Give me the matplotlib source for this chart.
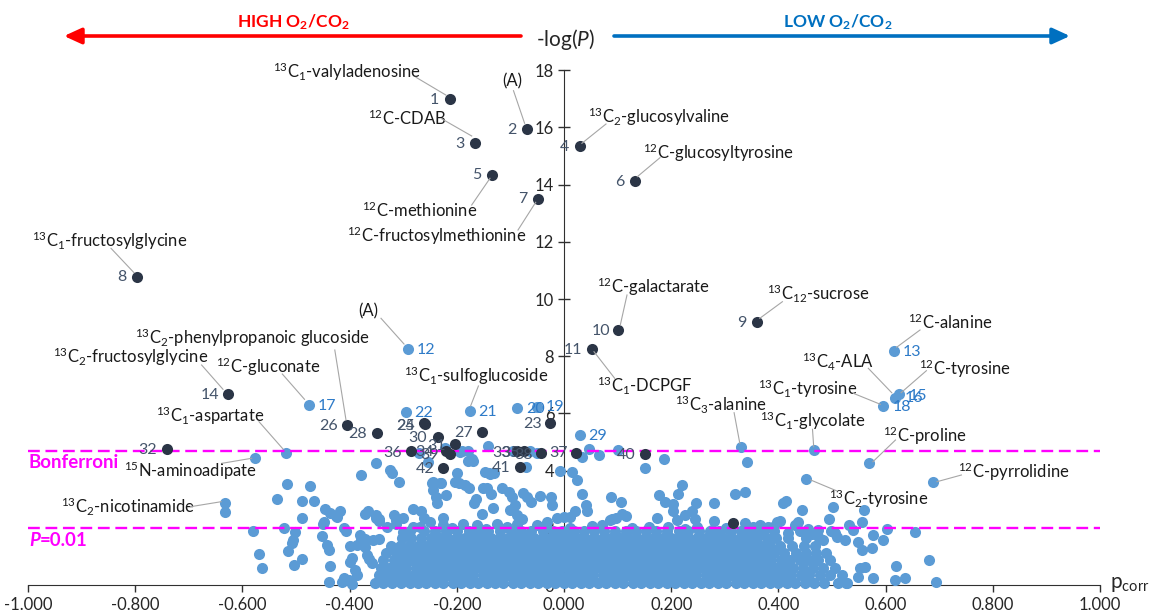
import matplotlib
matplotlib.use('Agg')
import matplotlib.pyplot as plt

plt.rcParams['font.family'] = ['Lato', 'DejaVu Sans']
plt.rcParams['mathtext.fontset'] = 'custom'
plt.rcParams['mathtext.rm'] = 'Lato'
plt.rcParams['mathtext.it'] = 'Lato:italic'
plt.rcParams['mathtext.bf'] = 'Lato:bold'

# ---------------- data ----------------
x_ticks = [-1.0, -0.8, -0.6, -0.4, -0.2, 0.0, 0.2, 0.4, 0.6, 0.8, 1.0]
y_ticks = [0, 2, 4, 6, 8, 10, 12, 14, 16, 18]
bonferroni = 4.70
p001 = 2.0

# numbered dark (significant) metabolites
dark_ids = ['1', '2', '3', '4', '5', '6', '7', '8', '9', '10', '11', '14', '23', '24', '25',
            '26', '27', '28', '30', '31', '32', '33', '34', '35', '36', '37', '38', '39',
            '40', '41', '42', '']
dark_x = [-0.2136, -0.0687, -0.1666, 0.029, -0.1343, 0.132, -0.048, -0.797, 0.360, 0.1015,
          0.052, -0.6263, -0.027, -0.262, -0.259, -0.405, -0.153, -0.3496, -0.236, -0.203,
          -0.7416, -0.0875, -0.220, -0.075, -0.286, 0.022, -0.042, -0.213, 0.151, -0.083,
          -0.226, 0.315]
dark_y = [16.98, 15.93, 15.47, 15.35, 14.35, 14.13, 13.50, 10.78, 9.18, 8.92, 8.25, 6.67,
          5.65, 5.65, 5.62, 5.58, 5.36, 5.30, 5.19, 4.92, 4.76, 4.70, 4.69, 4.70, 4.68,
          4.63, 4.61, 4.58, 4.57, 4.11, 4.08, 2.17]

# numbered light metabolites
light_ids = ['12', '13', '15', '16', '17', '18', '19', '20', '21', '22', '29']
light_x = [-0.2916, 0.616, 0.6254, 0.6177, -0.476, 0.596, -0.051, -0.087, -0.176, -0.295, 0.029]
light_y = [8.24, 8.17, 6.67, 6.55, 6.31, 6.26, 6.21, 6.18, 6.10, 6.06, 5.24]

# named (un-numbered) light metabolites
named_x = [-0.5187, -0.576, -0.6326, -0.6326, 0.330, 0.467, 0.5697, 0.451, 0.688]
named_y = [4.63, 4.43, 2.88, 2.55, 4.84, 4.72, 4.25, 3.71, 3.59]

# scattered non-significant features
fringe_x = [-0.142, -0.351, -0.378, -0.325, -0.320, -0.308, -0.517, -0.474, -0.536, -0.488,
            -0.467, -0.489, -0.446, -0.437, -0.425, -0.417, -0.371, -0.365, -0.350, -0.346,
            -0.318, -0.314, -0.300, -0.282, -0.266, -0.262, -0.247, -0.244, -0.239, -0.237,
            -0.231, -0.220, -0.225, -0.200, -0.195, -0.184, -0.178, -0.172, -0.170, -0.1685,
            -0.165, -0.153, -0.144, -0.139, -0.131, -0.136, -0.132, -0.116, -0.103, -0.097,
            -0.091, -0.100, -0.077, -0.069, -0.061, -0.088, -0.078, -0.044, -0.025, -0.022,
            -0.013, -0.007, 0.000, -0.270, -0.253, -0.222, -0.194, -0.1785, -0.1785, -0.190,
            -0.245, -0.2295, -0.2034, -0.147, -0.138, -0.1505, -0.0945, -0.063, -0.051,
            -0.0715, 0.0143, 0.0236, 0.033, 0.047, 0.066, 0.101, 0.151, 0.1866,
            0.033, 0.0405, 0.0423, 0.0205, 0.0112, 0.0877, 0.1064, 0.0889, 0.097, 0.109,
            0.1156, 0.1779, 0.1884, 0.2027, 0.204, 0.2133, 0.2208, 0.2257, 0.238, 0.246,
            0.244, 0.2805, 0.319, 0.3377, 0.341, 0.3377, 0.353, 0.397, 0.403, 0.408, 0.4142,
            0.4434, 0.437, 0.5025, 0.495, 0.532, 0.5554, 0.5597, 0.5772, 0.602, 0.5946,
            0.5753, 0.5615, 0.5772, 0.6195, 0.6177, 0.6364, 0.655, 0.6818, 0.694,
            0.0703, 0.0858, 0.1729, 0.1946, 0.2114, 0.2475, 0.2805, 0.2755, 0.3657, 0.3905,
            0.431, 0.456, 0.4745, 0.484, 0.5087, 0.5243, 0.5398, 0.5492, 0.5554, 0.5523,
            0.549, 0.526,
            -0.281, -0.2505, -0.2251, -0.1878, -0.1629, -0.1256, -0.0883, -0.051, -0.0323,
            -0.3451, -0.331, -0.3127, -0.3003,
            -0.5796, -0.5684, -0.5628, -0.522, -0.502, -0.505, -0.508, -0.514, -0.503, -0.489,
            -0.449, -0.452, -0.443, -0.438, -0.437, -0.439, -0.411, -0.407, -0.399, -0.387,
            -0.379, -0.396, -0.410, -0.4005, -0.387, -0.390, -0.371, -0.368, -0.363, -0.359,
            -0.356, -0.414, -0.395, -0.400, -0.380, -0.372, -0.350, -0.345, -0.424, -0.448,
            -0.268, -0.209, -0.146, -0.107, -0.035, 0.012, 0.052, 0.126, 0.158, 0.226,
            0.302, 0.338, 0.381, 0.417, 0.462, 0.505]
fringe_y = [4.86, 4.28, 3.85, 4.02, 3.93, 3.61, 3.52, 3.47, 3.00, 2.95,
            2.95, 2.33, 2.66, 2.52, 2.40, 2.60, 2.50, 2.59, 2.45, 2.30,
            2.45, 2.27, 2.33, 2.64, 2.57, 2.33, 3.58, 3.32, 3.09, 2.88,
            3.56, 3.15, 2.33, 3.93, 3.56, 3.50, 3.40, 4.42, 4.32, 2.88,
            3.00, 2.48, 3.40, 3.90, 3.90, 3.17, 2.68, 3.40, 3.26, 3.09,
            2.80, 2.62, 3.23, 3.09, 2.91, 2.45, 2.31, 3.11, 3.09, 2.80,
            2.33, 4.00, 2.39, 4.60, 4.31, 4.78, 4.66, 4.70, 4.35, 4.70,
            3.61, 3.55, 3.61, 3.96, 3.88, 3.38, 4.70, 4.70, 4.63,
            4.14, 3.96, 3.67, 4.46, 4.74, 4.55, 4.72, 4.08, 4.39,
            3.18, 2.80, 2.59, 2.59, 2.39, 3.06, 2.91, 2.30, 2.33, 2.48,
            2.41, 3.15, 2.89, 2.83, 2.60, 3.18, 3.50, 2.45, 2.60, 2.855,
            2.30, 2.88, 3.17, 3.26, 4.31, 2.16, 2.02, 2.22, 2.24, 2.88, 2.95,
            2.62, 2.22, 2.71, 2.30, 2.10, 2.19, 2.62, 1.76, 1.97, 1.57,
            1.28, 0.64, 0.23, 0.68, 0.16, 0.24, 1.85, 0.885, 0.09,
            2.10, 2.27, 2.33, 2.04, 2.27, 2.04, 2.24, 1.92, 2.10, 2.02,
            2.10, 1.97, 1.92, 1.57, 1.69, 1.57, 1.92, 1.51, 1.22, 0.58,
            0.29, 0.06,
            2.04, 2.21, 2.09, 2.15, 2.09, 2.15, 2.15, 2.09, 2.21,
            1.60, 2.04, 2.15, 1.86,
            1.88, 1.07, 0.59, 1.98, 1.85, 1.59, 1.47, 1.20, 0.70, 0.90,
            2.12, 1.72, 1.40, 1.23, 0.65, 0.09, 2.00, 1.88, 1.36, 1.40,
            1.59, 0.95, 0.24, 0.16, 0.35, 0.52, 1.33, 1.05, 0.91, 0.76,
            1.57, 0.12, 0.02, 0.81, 1.75, 1.62, 2.34, 2.23, 2.39, 2.22,
            2.02, 1.99, 1.97, 2.03, 1.99, 2.01, 2.05, 1.98, 2.03, 1.97,
            2.00, 1.96, 2.04, 1.81, 1.78, 1.83]

# dense body of non-significant features, read row by row (-log P level, p_corr values)
cloud_row_y = [0.08, 0.34, 0.60, 0.86, 1.12, 1.38, 1.64, 1.88]
cloud_row_x = [
    [-0.352, -0.337, -0.320, -0.305, -0.288, -0.272, -0.257, -0.240, -0.225, -0.208, -0.193,
     -0.176, -0.161, -0.144, -0.128, -0.113, -0.096, -0.081, -0.064, -0.049, -0.032, -0.017,
     0.000, 0.015, 0.032, 0.047, 0.064, 0.079, 0.096, 0.111, 0.128, 0.143, 0.160, 0.175,
     0.192, 0.207, 0.224, 0.239, 0.256, 0.271, 0.288, 0.303, 0.320, 0.335, 0.352, 0.367,
     0.384, 0.399, 0.416, 0.431, 0.450, 0.467, 0.486, 0.512, 0.528],
    [-0.346, -0.329, -0.313, -0.297, -0.280, -0.265, -0.249, -0.232, -0.217, -0.201, -0.184,
     -0.169, -0.152, -0.137, -0.120, -0.105, -0.088, -0.073, -0.056, -0.041, -0.024, -0.009,
     0.008, 0.023, 0.040, 0.055, 0.072, 0.087, 0.104, 0.119, 0.136, 0.151, 0.168, 0.183,
     0.200, 0.215, 0.232, 0.247, 0.264, 0.279, 0.296, 0.311, 0.328, 0.343, 0.360, 0.375,
     0.392, 0.407, 0.424, 0.442, 0.458, 0.477, 0.497, 0.519],
    [-0.342, -0.326, -0.309, -0.294, -0.277, -0.262, -0.245, -0.229, -0.213, -0.197, -0.181,
     -0.165, -0.149, -0.133, -0.117, -0.101, -0.085, -0.069, -0.053, -0.037, -0.021, -0.005,
     0.011, 0.027, 0.043, 0.059, 0.075, 0.091, 0.107, 0.123, 0.139, 0.155, 0.171, 0.187,
     0.203, 0.219, 0.235, 0.251, 0.267, 0.283, 0.299, 0.315, 0.331, 0.347, 0.363, 0.379,
     0.395, 0.412, 0.428, 0.446, 0.465, 0.483, 0.505],
    [-0.337, -0.318, -0.302, -0.286, -0.270, -0.253, -0.237, -0.221, -0.205, -0.189, -0.173,
     -0.157, -0.141, -0.125, -0.109, -0.093, -0.077, -0.061, -0.045, -0.029, -0.013, 0.003,
     0.019, 0.035, 0.051, 0.067, 0.083, 0.099, 0.115, 0.131, 0.147, 0.163, 0.179, 0.195,
     0.211, 0.227, 0.243, 0.259, 0.275, 0.291, 0.307, 0.323, 0.339, 0.355, 0.371, 0.387,
     0.404, 0.421, 0.440, 0.458, 0.474, 0.496],
    [-0.333, -0.314, -0.297, -0.281, -0.264, -0.248, -0.232, -0.216, -0.200, -0.184, -0.168,
     -0.152, -0.136, -0.120, -0.104, -0.088, -0.072, -0.056, -0.040, -0.024, -0.008, 0.008,
     0.024, 0.040, 0.056, 0.072, 0.088, 0.104, 0.120, 0.136, 0.152, 0.168, 0.184, 0.200,
     0.216, 0.232, 0.248, 0.264, 0.280, 0.296, 0.312, 0.328, 0.344, 0.360, 0.376, 0.392,
     0.410, 0.432, 0.451, 0.470, 0.489],
    [-0.323, -0.306, -0.289, -0.273, -0.256, -0.240, -0.224, -0.208, -0.192, -0.176, -0.160,
     -0.144, -0.128, -0.112, -0.096, -0.080, -0.064, -0.048, -0.032, -0.016, 0.000, 0.016,
     0.032, 0.048, 0.064, 0.080, 0.096, 0.112, 0.128, 0.144, 0.160, 0.176, 0.192, 0.208,
     0.224, 0.240, 0.256, 0.272, 0.288, 0.304, 0.320, 0.336, 0.352, 0.368, 0.384, 0.403,
     0.425, 0.447, 0.468],
    [-0.302, -0.285, -0.266, -0.249, -0.232, -0.216, -0.200, -0.184, -0.168, -0.152, -0.136,
     -0.120, -0.104, -0.088, -0.072, -0.056, -0.040, -0.024, -0.008, 0.008, 0.024, 0.040,
     0.056, 0.072, 0.088, 0.104, 0.120, 0.136, 0.152, 0.168, 0.184, 0.200, 0.216, 0.232,
     0.248, 0.264, 0.280, 0.296, 0.312, 0.328, 0.344, 0.361, 0.379, 0.396, 0.418, 0.452,
     0.475],
    [-0.288, -0.262, -0.240, -0.221, -0.199, -0.178, -0.160, -0.141, -0.119, -0.098, -0.080,
     -0.061, -0.040, -0.020, -0.003, 0.018, 0.037, 0.056, 0.074, 0.095, 0.116, 0.134, 0.153,
     0.172, 0.193, 0.214, 0.232, 0.251, 0.272, 0.290, 0.311, 0.330, 0.352, 0.371, 0.392,
     0.440, 0.498],
]

# ---------------- layout / style ----------------
W, H = 1151, 612
X0, XS = 564, 536      # pixel position of p_corr = 0 and pixels per unit
Y0, YS = 585, 28.6     # pixel position of -logP = 0 and pixels per unit
LIGHT = '#5B9BD5'
DARK = '#2B3546'
DARK_TXT = '#44546A'
BLUE_TXT = '#2E7BC8'
MAG = '#FF00FF'
TXT = '#1A1A1A'

def P(px, py):
    return ((px - X0) / XS, (Y0 - py) / YS)

def F(px, py):
    return (px / W, 1 - py / H)

fig = plt.figure(figsize=(W / 100, H / 100), dpi=100)
ax = fig.add_axes([(X0 - XS) / W, (H - Y0) / H, 2 * XS / W, 18 * YS / H])
ax.set_xlim(-1, 1)
ax.set_ylim(0, 18)

for s in ['top', 'right']:
    ax.spines[s].set_visible(False)
ax.spines['left'].set_position(('data', 0))
ax.spines['left'].set_color('#303030')
ax.spines['bottom'].set_color('#303030')
ax.spines['left'].set_zorder(2)
ax.spines['bottom'].set_zorder(2)

ax.set_xticks(x_ticks)
ax.set_xticklabels(['%.3f' % v for v in x_ticks])
ax.set_yticks(y_ticks)
ax.set_yticklabels([str(v) for v in y_ticks])
ax.tick_params(axis='x', direction='out', length=5, width=1, pad=4, labelsize=12,
               colors='#303030', labelcolor='#262626')
ax.tick_params(axis='y', direction='inout', length=8, width=1, pad=3, labelsize=12,
               colors='#303030', labelcolor='#262626')

# threshold lines
ax.plot([-1, 1], [bonferroni, bonferroni], color=MAG, lw=1.7, ls=(0, (5, 2.4)), zorder=4)
ax.plot([-1, 1], [p001, p001], color=MAG, lw=1.7, ls=(0, (5, 2.4)), zorder=4)

# points
S = 64
for yv, xs in zip(cloud_row_y, cloud_row_x):
    ax.scatter(xs, [yv] * len(xs), s=S, c=LIGHT, linewidths=0, zorder=3, clip_on=False)
ax.scatter(fringe_x, fringe_y, s=S, c=LIGHT, linewidths=0, zorder=3, clip_on=False)
ax.scatter(named_x, named_y, s=S, c=LIGHT, linewidths=0, zorder=3, clip_on=False)
ax.scatter(light_x, light_y, s=S, c=LIGHT, linewidths=0, zorder=3, clip_on=False)
ax.scatter(dark_x, dark_y, s=S, c=DARK, linewidths=0, zorder=5, clip_on=False)

# number labels (pixel centre positions)
num_pos = {
    '1': (434.7, 100), '2': (511.6, 130), '3': (459.5, 144), '4': (564.5, 146.7),
    '5': (477.2, 174.7), '6': (619.6, 181.7), '7': (522.7, 199.3), '8': (122, 276.7),
    '9': (742, 322.7), '10': (600.7, 330.7), '11': (573.2, 350), '12': (426.2, 350),
    '13': (912.4, 351.7), '14': (210.1, 395), '15': (918, 396), '16': (913.6, 398.3),
    '17': (327.4, 405.7), '18': (901.9, 406.7), '19': (555, 406.7), '20': (535.3, 409.3),
    '21': (487.6, 411.7), '22': (423.6, 412.7), '23': (532.7, 424), '24': (405.1, 426),
    '25': (405.1, 426), '26': (328.5, 426), '27': (463.2, 432.7), '28': (357.7, 434.3),
    '29': (597.7, 435.7), '30': (418, 438.3), '31': (436.5, 445.7), '32': (147.2, 450),
    '33': (501.3, 452.7), '34': (424.7, 452.3), '35': (510.5, 452.7), '36': (392.2, 452.7),
    '37': (558.6, 453.3), '38': (523.5, 455), '39': (429.1, 455), '40': (626, 455),
    '41': (501, 468.3), '42': (425, 469.3),
}
for lab in dark_ids:
    if lab:
        ax.text(*P(*num_pos[lab]), lab, color=DARK_TXT, fontsize=11.5, ha='center',
                va='center', zorder=6)
for lab in light_ids:
    ax.text(*P(*num_pos[lab]), lab, color=BLUE_TXT, fontsize=11.5, ha='center',
            va='center', zorder=6)

# named annotations: text, text centre px, leader start px, leader end px
annots = [
    (r'$^{13}$C$_1$-valyladenosine', (346.5, 72), (416, 77.3), (445.8, 95)),
    ('(A)', (512.4, 81.7), (513.5, 90.7), (524.6, 123.3)),
    (r'$^{12}$C-CDAB', (407, 118.3), (442, 119), (471.7, 136)),
    (r'$^{12}$C-methionine', (419.5, 210.7), (471.7, 205), (490, 178.3)),
    (r'$^{12}$C-fructosylmethionine', (436.5, 236), (518, 230), (535.7, 202.3)),
    (r'$^{13}$C$_1$-fructosylglycine', (110, 240.7), (111, 248.3), (134, 272.7)),
    (r'$^{13}$C$_2$-glucosylvaline', (659.3, 117.3), (606, 124), (581.9, 143.3)),
    (r'$^{12}$C-glucosyltyrosine', (718.3, 152.3), (660, 157.7), (637.3, 176.7)),
    ('(A)', (368.1, 311.7), (381, 318.3), (404, 344)),
    (r'$^{13}$C$_2$-phenylpropanoic glucoside', (252.7, 337.7), (334.8, 350), (346, 420)),
    (r'$^{13}$C$_2$-fructosylglycine', (131, 357.3), (201.6, 365), (223, 389.3)),
    (r'$^{12}$C-gluconate', (267.7, 366.7), (282.3, 374), (304.5, 399.3)),
    (r'$^{13}$C$_1$-sulfoglucoside', (476.2, 376), (478.4, 386), (470.6, 406)),
    (r'$^{13}$C$_1$-aspartate', (209.8, 416), (259, 421.7), (283, 449)),
    (r'$^{15}$N-aminoadipate', (190.5, 471), (222, 463.3), (251.6, 458.3)),
    (r'$^{13}$C$_2$-nicotinamide', (127.7, 507.3), (190.5, 506.7), (221.2, 501.7)),
    (r'$^{12}$C-galactarate', (653.1, 286.7), (627, 295), (620.3, 325)),
    (r'$^{13}$C$_1$-DCPGF', (644.5, 386), (594, 351.7), (614.7, 378.3)),
    (r'$^{13}$C$_{12}$-sucrose', (818.7, 294), (782.4, 301.7), (759.8, 318.3)),
    (r'$^{12}$C-alanine', (950.1, 322.7), (920, 330), (896.6, 347.3)),
    (r'$^{13}$C$_4$-ALA', (838, 361.7), (868.3, 368.3), (891.7, 392.7)),
    (r'$^{12}$C-tyrosine', (965.2, 368.3), (926.4, 370.7), (901.1, 392.7)),
    (r'$^{13}$C$_1$-tyrosine', (807.3, 389.3), (853.3, 393.3), (880.4, 404.3)),
    (r'$^{13}$C$_3$-alanine', (720.8, 405), (734.1, 412.7), (739.8, 443.3)),
    (r'$^{13}$C$_1$-glycolate', (813.2, 420.7), (812.5, 429.3), (813.7, 446.7)),
    (r'$^{12}$C-proline', (924.3, 435.7), (895.5, 440), (872.9, 461.7)),
    (r'$^{12}$C-pyrrolidine', (1013.8, 471.7), (961.4, 475), (937, 481.7)),
    (r'$^{13}$C$_2$-tyrosine', (879, 498.3), (837, 491), (810.7, 480)),
]
for txt, tc, ls_, le in annots:
    ax.text(*P(*tc), txt, color=TXT, fontsize=12, ha='center', va='center', zorder=6)
    a, b = P(*ls_), P(*le)
    ax.plot([a[0], b[0]], [a[1], b[1]], color='#A6A6A6', lw=0.8, zorder=6, clip_on=False)

# threshold labels
ax.text(*P(29, 462.7), 'Bonferroni', color=MAG, fontsize=13.5, fontweight='bold',
        ha='left', va='center', zorder=6)
tP = ax.text(*P(29, 540.7), 'P', color=MAG, fontsize=13.5, fontweight='bold',
             style='italic', ha='left', va='center', zorder=6)
ax.annotate('=0.01', xy=(1, 0), xycoords=tP, ha='left', va='bottom', color=MAG,
            fontsize=13.5, fontweight='bold')

# axis titles
ax.text(*P(1110, 584), r'p$_{\mathrm{corr}}$', fontsize=15, color='#262626',
        ha='left', va='center', clip_on=False)
fig.text(*F(566, 40), r'-log($\mathit{P}$)', fontsize=15, color='#262626',
         ha='center', va='center')

# header arrows
ax.annotate('', xy=F(64, 36), xytext=F(521, 36), xycoords='figure fraction',
            textcoords='figure fraction',
            arrowprops=dict(arrowstyle='-|>,head_length=0.7,head_width=0.32', color='#FF0000',
                            lw=2.6, mutation_scale=15, shrinkA=0, shrinkB=0))
ax.annotate('', xy=F(1070, 36), xytext=F(614, 36), xycoords='figure fraction',
            textcoords='figure fraction',
            arrowprops=dict(arrowstyle='-|>,head_length=0.7,head_width=0.32', color='#0070C0',
                            lw=2.6, mutation_scale=15, shrinkA=0, shrinkB=0))
fig.text(*F(293, 22), r'HIGH O$_\mathbf{2}$/CO$_\mathbf{2}$', color='#FF0000', fontsize=12.5,
         fontweight='bold', ha='center', va='center')
fig.text(*F(838, 22), r'LOW O$_\mathbf{2}$/CO$_\mathbf{2}$', color='#0070C0', fontsize=12.5,
         fontweight='bold', ha='center', va='center')

fig.savefig('out.png', dpi=100)
